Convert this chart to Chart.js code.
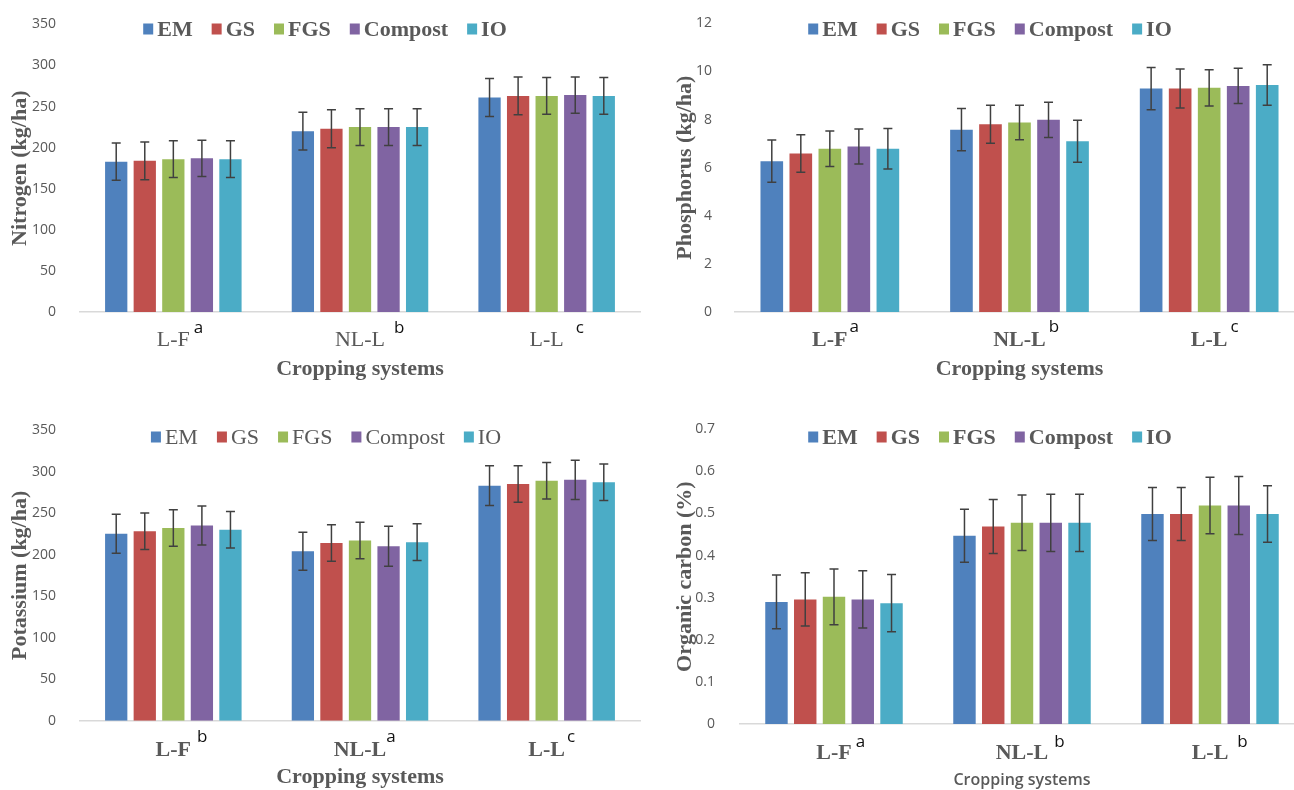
<!DOCTYPE html>
<html>
<head>
<meta charset="utf-8">
<title>Soil nutrients by cropping system</title>
<script src="https://cdn.jsdelivr.net/npm/chart.js@4.4.0/dist/chart.umd.min.js"></script>
<style>
html, body { margin: 0; padding: 0; background: #fff; width: 1294px; height: 790px; overflow: hidden; }
.panel { position: absolute; }
</style>
</head>
<body>
<div class="panel" style="left:0;top:0"><canvas id="nitrogen" width="647" height="395"></canvas></div>
<div class="panel" style="left:650px;top:0"><canvas id="phosphorus" width="654" height="395"></canvas></div>
<div class="panel" style="left:0;top:400px"><canvas id="potassium" width="647" height="400"></canvas></div>
<div class="panel" style="left:650px;top:400px"><canvas id="carbon" width="654" height="400"></canvas></div>
<script>
// categories and series
var CATEGORIES = ['L-F', 'NL-L', 'L-L'];
var SERIES = ['EM', 'GS', 'FGS', 'Compost', 'IO'];
var COLORS = ['#4f81bd', '#c0504d', '#9bbb59', '#8064a2', '#4bacc6'];

// Nitrogen (kg/ha)
var N_EM = [183, 220, 261];
var N_GS = [184, 223, 263];
var N_FGS = [186, 225, 263];
var N_COMPOST = [187, 225, 264];
var N_IO = [186, 225, 263];
var N_EM_ERR = [22.6, 23, 23.2];
var N_GS_ERR = [23, 23, 23];
var N_FGS_ERR = [22.4, 22.4, 22.4];
var N_COMPOST_ERR = [22, 22.4, 22];
var N_IO_ERR = [22.4, 22.4, 22.4];
var N_LETTERS = ['a', 'b', 'c'];

// Phosphorus (kg/ha)
var P_EM = [6.27, 7.58, 9.29];
var P_GS = [6.59, 7.81, 9.29];
var P_FGS = [6.79, 7.88, 9.32];
var P_COMPOST = [6.88, 7.99, 9.40];
var P_IO = [6.79, 7.10, 9.44];
var P_EM_ERR = [0.88, 0.88, 0.88];
var P_GS_ERR = [0.78, 0.79, 0.81];
var P_FGS_ERR = [0.74, 0.72, 0.75];
var P_COMPOST_ERR = [0.73, 0.73, 0.73];
var P_IO_ERR = [0.84, 0.87, 0.84];
var P_LETTERS = ['a', 'b', 'c'];

// Potassium (kg/ha)
var K_EM = [225, 204, 283];
var K_GS = [228, 214, 285];
var K_FGS = [232, 217, 289];
var K_COMPOST = [235, 210, 290];
var K_IO = [230, 215, 287];
var K_EM_ERR = [23.5, 23, 24];
var K_GS_ERR = [22, 22, 22];
var K_FGS_ERR = [22, 22, 22];
var K_COMPOST_ERR = [23.5, 24, 23.7];
var K_IO_ERR = [22, 22, 22];
var K_LETTERS = ['b', 'a', 'c'];

// Organic carbon (%)
var C_EM = [0.290, 0.447, 0.499];
var C_GS = [0.296, 0.469, 0.499];
var C_FGS = [0.302, 0.478, 0.519];
var C_COMPOST = [0.296, 0.478, 0.519];
var C_IO = [0.287, 0.478, 0.499];
var C_EM_ERR = [0.064, 0.063, 0.063];
var C_GS_ERR = [0.063, 0.064, 0.063];
var C_FGS_ERR = [0.066, 0.066, 0.067];
var C_COMPOST_ERR = [0.068, 0.068, 0.069];
var C_IO_ERR = [0.068, 0.068, 0.067];
var C_LETTERS = ['a', 'b', 'b'];

var GRAY = '#595959';
var SERIF = '"Liberation Serif", "Times New Roman", serif';
var SANS = '"Open Sans", "Liberation Sans", sans-serif';

// error bars drawn from each bar element and the y scale
var errorBars = {
    id: 'errorBars',
    afterDatasetsDraw: function(chart) {
        var ctx = chart.ctx;
        var yScale = chart.scales.y;
        ctx.save();
        ctx.strokeStyle = '#404040';
        ctx.lineWidth = 1.5;
        chart.data.datasets.forEach(function(ds, i) {
            var meta = chart.getDatasetMeta(i);
            meta.data.forEach(function(bar, j) {
                var v = ds.data[j], e = ds.errors[j];
                var top = yScale.getPixelForValue(v + e);
                var bot = yScale.getPixelForValue(v - e);
                ctx.beginPath();
                ctx.moveTo(bar.x, top); ctx.lineTo(bar.x, bot);
                ctx.moveTo(bar.x - 4.5, top); ctx.lineTo(bar.x + 4.5, top);
                ctx.moveTo(bar.x - 4.5, bot); ctx.lineTo(bar.x + 4.5, bot);
                ctx.stroke();
            });
        });
        ctx.restore();
    }
};

function makeChart(id, o) {
    var datasets = SERIES.map(function(name, i) {
        return {
            label: name,
            data: o.values[i],
            errors: o.errors[i],
            backgroundColor: COLORS[i],
            borderWidth: 0,
            categoryPercentage: 0.765,
            barPercentage: 0.78
        };
    });

    // legend sitting inside the plot, like the original
    var legend = {
        id: 'insideLegend',
        afterDraw: function(chart) {
            var ctx = chart.ctx;
            var box = 10, gapText = 4, gapItem = 19;
            ctx.save();
            ctx.font = (o.legendBold ? 'bold ' : '') + '22px ' + SERIF;
            var items = chart.data.datasets;
            var widths = items.map(function(d) { return ctx.measureText(d.label).width; });
            var total = 0;
            widths.forEach(function(w) { total += box + gapText + w; });
            total += gapItem * (items.length - 1);
            var x = o.legendCx - total / 2;
            ctx.textBaseline = 'middle';
            ctx.textAlign = 'left';
            items.forEach(function(d, i) {
                ctx.fillStyle = d.backgroundColor;
                ctx.fillRect(x, o.legendY - 5.5, box, 11);
                x += box + gapText;
                ctx.fillStyle = GRAY;
                ctx.fillText(d.label, x, o.legendY + 1);
                x += widths[i] + gapItem;
            });
            ctx.restore();
        }
    };

    // significance letters after each category label
    var letters = {
        id: 'letters',
        afterDraw: function(chart) {
            var ctx = chart.ctx;
            var sc = chart.scales.x;
            ctx.save();
            ctx.font = (o.xBold ? 'bold ' : '') + '22px ' + SERIF;
            var widths = CATEGORIES.map(function(c) { return ctx.measureText(c).width; });
            ctx.font = '17px ' + SANS;
            ctx.fillStyle = '#111';
            ctx.textBaseline = 'middle';
            ctx.textAlign = 'left';
            CATEGORIES.forEach(function(c, i) {
                var x = sc.getPixelForTick(i) + widths[i] / 2 + o.letterGap[i];
                ctx.fillText(o.letters[i], x, sc.top + o.letterY);
            });
            ctx.restore();
        }
    };

    return new Chart(document.getElementById(id), {
        type: 'bar',
        data: { labels: CATEGORIES, datasets: datasets },
        options: {
            responsive: false,
            animation: false,
            events: [],
            layout: { padding: { left: 0, right: o.padRight, top: o.padTop, bottom: 0 } },
            plugins: { legend: { display: false }, tooltip: { enabled: false } },
            scales: {
                x: {
                    grid: { display: false },
                    border: { display: true, color: '#d9d9d9', width: 1.5 },
                    ticks: {
                        color: GRAY, padding: o.xTickPad, maxRotation: 0,
                        font: { family: SERIF, size: 22, weight: o.xBold ? 'bold' : 'normal' }
                    },
                    title: {
                        display: true, text: 'Cropping systems', color: GRAY,
                        font: o.xTitleFont, padding: { top: 0, bottom: o.xTitlePad }
                    },
                    afterFit: function(s) { s.height = o.xHeight; }
                },
                y: {
                    min: 0, max: o.yMax,
                    grid: { display: false },
                    border: { display: false },
                    ticks: {
                        stepSize: o.step, color: GRAY, padding: o.yTickPad,
                        font: { family: SANS, size: 14 },
                        callback: function(v) { return +v.toFixed(2); }
                    },
                    title: {
                        display: true, text: o.yTitle, color: GRAY,
                        font: { family: SERIF, size: 22, weight: 'bold' },
                        padding: { top: o.yTitlePad, bottom: 0 }
                    },
                    afterFit: function(s) { s.width = o.yWidth; }
                }
            }
        },
        plugins: [errorBars, legend, letters]
    });
}

var serifTitle = { family: SERIF, size: 22, weight: 'bold' };

makeChart('nitrogen', {
    values: [N_EM, N_GS, N_FGS, N_COMPOST, N_IO],
    errors: [N_EM_ERR, N_GS_ERR, N_FGS_ERR, N_COMPOST_ERR, N_IO_ERR],
    letters: N_LETTERS, letterGap: [4, 9, 12], letterY: 16,
    yMax: 350, step: 50, yTitle: 'Nitrogen (kg/ha)',
    xBold: false, legendBold: true, legendCx: 325, legendY: 29,
    padTop: 20, padRight: 7, yWidth: 80, xHeight: 83, xTickPad: 7,
    yTickPad: 16, yTitlePad: 7.5, xTitleFont: serifTitle, xTitlePad: 12
});

makeChart('phosphorus', {
    values: [P_EM, P_GS, P_FGS, P_COMPOST, P_IO],
    errors: [P_EM_ERR, P_GS_ERR, P_FGS_ERR, P_COMPOST_ERR, P_IO_ERR],
    letters: P_LETTERS, letterGap: [2, 3, 3], letterY: 15,
    yMax: 12, step: 2, yTitle: 'Phosphorus (kg/ha)',
    xBold: true, legendBold: true, legendCx: 340, legendY: 29,
    padTop: 20, padRight: 0, yWidth: 85, xHeight: 83, xTickPad: 7,
    yTickPad: 15, yTitlePad: 22, xTitleFont: serifTitle, xTitlePad: 12
});

makeChart('potassium', {
    values: [K_EM, K_GS, K_FGS, K_COMPOST, K_IO],
    errors: [K_EM_ERR, K_GS_ERR, K_FGS_ERR, K_COMPOST_ERR, K_IO_ERR],
    letters: K_LETTERS, letterGap: [6, 0, 2], letterY: 16,
    yMax: 350, step: 50, yTitle: 'Potassium (kg/ha)',
    xBold: true, legendBold: false, legendCx: 326, legendY: 37,
    padTop: 30, padRight: 7, yWidth: 80, xHeight: 79.3, xTickPad: 8,
    yTickPad: 16, yTitlePad: 7.5, xTitleFont: serifTitle, xTitlePad: 9
});

makeChart('carbon', {
    values: [C_EM, C_GS, C_FGS, C_COMPOST, C_IO],
    errors: [C_EM_ERR, C_GS_ERR, C_FGS_ERR, C_COMPOST_ERR, C_IO_ERR],
    letters: C_LETTERS, letterGap: [4, 6, 9], letterY: 18,
    yMax: 0.7, step: 0.1, yTitle: 'Organic carbon (%)',
    xBold: true, legendBold: true, legendCx: 340, legendY: 37,
    padTop: 29.3, padRight: 0, yWidth: 90, xHeight: 76, xTickPad: 8,
    yTickPad: 17, yTitlePad: 22, xTitleFont: { family: SANS, size: 16, weight: '600' }, xTitlePad: 10
});
</script>
</body>
</html>
